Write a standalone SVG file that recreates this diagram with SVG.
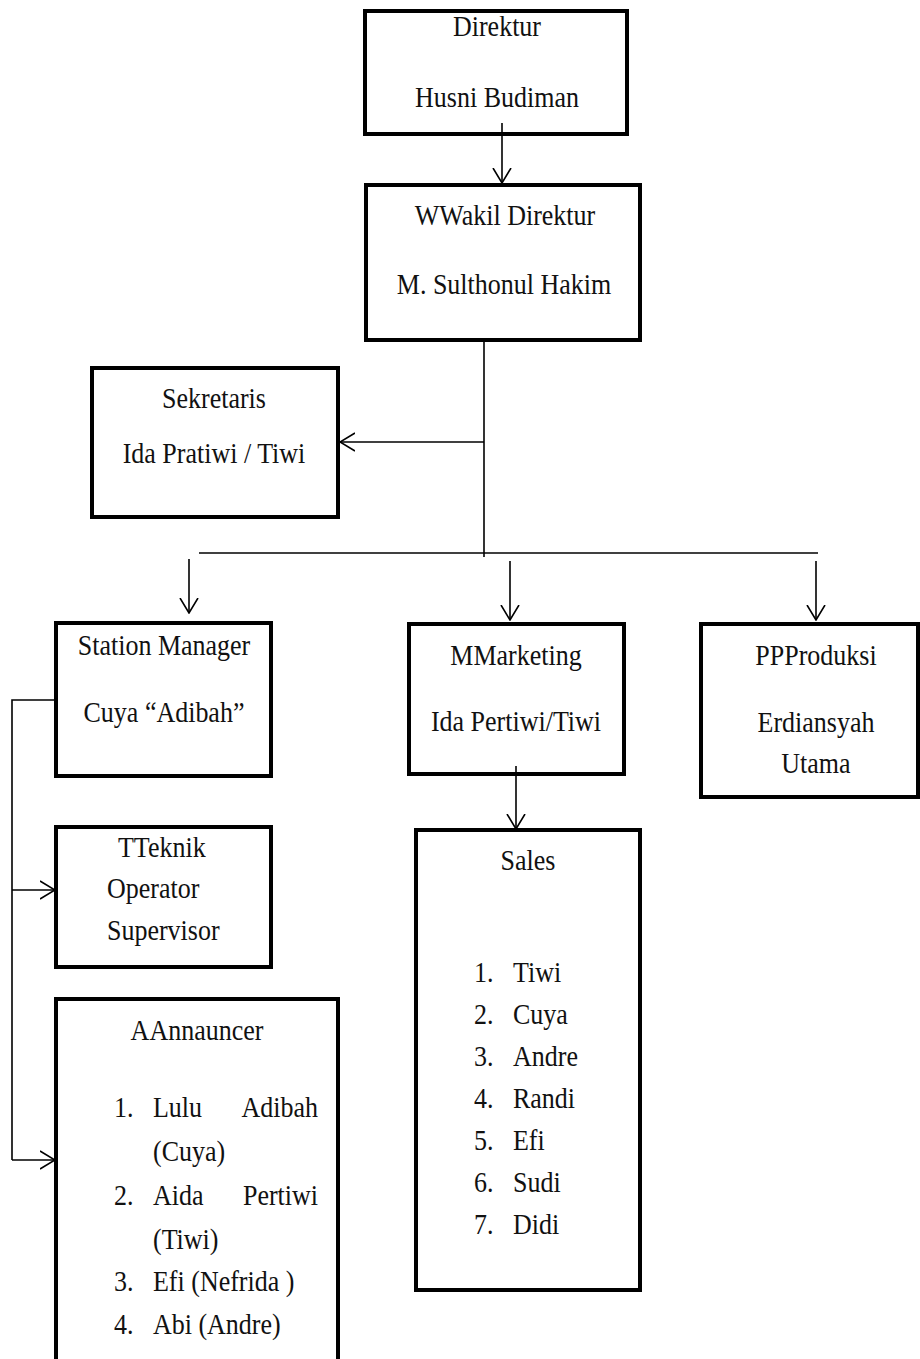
<svg xmlns="http://www.w3.org/2000/svg" width="920" height="1359" viewBox="0 0 920 1359">
<defs>
<style>
.box{fill:#fff;stroke:#000;stroke-width:4}
.ln{fill:none;stroke:#000;stroke-width:1.6}
.t{font-family:"Liberation Serif","Times New Roman",serif;font-size:26px;fill:#111;transform-box:fill-box;transform-origin:50% 80%;transform:scaleY(1.14)}
.c{text-anchor:middle}
.r{text-anchor:end}
</style>
<marker id="ah" viewBox="0 0 16 20" refX="15" refY="10" markerWidth="16" markerHeight="20" markerUnits="userSpaceOnUse" orient="auto">
<path d="M0,1 L15,10 L0,19" fill="none" stroke="#000" stroke-width="1.6"/>
</marker>
</defs>
<rect width="920" height="1359" fill="#fff"/>

<g id="direktur">
<rect class="box" x="365" y="11" width="262" height="123"/>
<text class="t c" x="497" y="36">Direktur</text>
<text class="t c" x="497" y="107">Husni Budiman</text>
</g>

<g id="wakil">
<rect class="box" x="366" y="185" width="274" height="155"/>
<text class="t c" x="505" y="225">WWakil Direktur</text>
<text class="t c" x="504" y="294">M. Sulthonul Hakim</text>
</g>

<g id="sekretaris">
<rect class="box" x="92" y="368" width="246" height="149"/>
<text class="t c" x="214" y="408">Sekretaris</text>
<text class="t c" x="214" y="463">Ida Pratiwi / Tiwi</text>
</g>

<g id="station-manager">
<rect class="box" x="56" y="623" width="215" height="153"/>
<text class="t c" x="164" y="655">Station Manager</text>
<text class="t c" x="164" y="722">Cuya “Adibah”</text>
</g>

<g id="marketing">
<rect class="box" x="409" y="624" width="215" height="150"/>
<text class="t c" x="516" y="665">MMarketing</text>
<text class="t c" x="516" y="731">Ida Pertiwi/Tiwi</text>
</g>

<g id="produksi">
<rect class="box" x="701" y="624" width="217" height="173"/>
<text class="t c" x="816" y="665">PPProduksi</text>
<text class="t c" x="816" y="732">Erdiansyah</text>
<text class="t c" x="816" y="773">Utama</text>
</g>

<g id="teknik">
<rect class="box" x="56" y="827" width="215" height="140"/>
<text class="t" x="118" y="857">TTeknik</text>
<text class="t" x="107" y="898">Operator</text>
<text class="t" x="107" y="940">Supervisor</text>
</g>

<g id="annauncer">
<rect class="box" x="56" y="999" width="282" height="380"/>
<text class="t c" x="197" y="1040">AAnnauncer</text>
<text class="t" x="114" y="1117">1.</text>
<text class="t" x="153" y="1117">Lulu</text>
<text class="t r" x="318" y="1117">Adibah</text>
<text class="t" x="153" y="1161">(Cuya)</text>
<text class="t" x="114" y="1205">2.</text>
<text class="t" x="153" y="1205">Aida</text>
<text class="t r" x="318" y="1205">Pertiwi</text>
<text class="t" x="153" y="1249">(Tiwi)</text>
<text class="t" x="114" y="1291">3.</text>
<text class="t" x="153" y="1291">Efi (Nefrida )</text>
<text class="t" x="114" y="1334">4.</text>
<text class="t" x="153" y="1334">Abi (Andre)</text>
</g>

<g id="sales">
<rect class="box" x="416" y="830" width="224" height="460"/>
<text class="t c" x="528" y="870">Sales</text>
<text class="t" x="474" y="982">1.</text><text class="t" x="513" y="982">Tiwi</text>
<text class="t" x="474" y="1024">2.</text><text class="t" x="513" y="1024">Cuya</text>
<text class="t" x="474" y="1066">3.</text><text class="t" x="513" y="1066">Andre</text>
<text class="t" x="474" y="1108">4.</text><text class="t" x="513" y="1108">Randi</text>
<text class="t" x="474" y="1150">5.</text><text class="t" x="513" y="1150">Efi</text>
<text class="t" x="474" y="1192">6.</text><text class="t" x="513" y="1192">Sudi</text>
<text class="t" x="474" y="1234">7.</text><text class="t" x="513" y="1234">Didi</text>
</g>

<g id="connectors">
<line class="ln" x1="502" y1="123" x2="502" y2="183" marker-end="url(#ah)"/>
<line class="ln" x1="484" y1="340" x2="484" y2="557"/>
<line class="ln" x1="484" y1="442" x2="340" y2="442" marker-end="url(#ah)"/>
<line class="ln" x1="199" y1="553" x2="818" y2="553"/>
<line class="ln" x1="189" y1="559" x2="189" y2="613" marker-end="url(#ah)"/>
<line class="ln" x1="510" y1="561" x2="510" y2="620" marker-end="url(#ah)"/>
<line class="ln" x1="816" y1="561" x2="816" y2="620" marker-end="url(#ah)"/>
<polyline class="ln" points="56,700 12,700 12,1160"/>
<line class="ln" x1="12" y1="890" x2="55" y2="890" marker-end="url(#ah)"/>
<line class="ln" x1="12" y1="1160" x2="55" y2="1160" marker-end="url(#ah)"/>
<line class="ln" x1="516" y1="766" x2="516" y2="829" marker-end="url(#ah)"/>
</g>
</svg>
